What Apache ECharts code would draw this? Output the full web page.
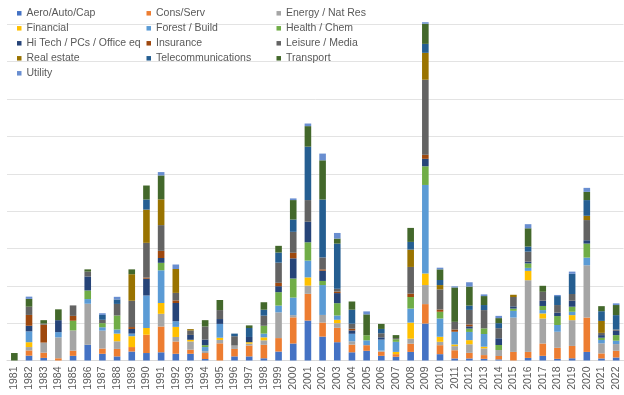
<!DOCTYPE html>
<html>
<head>
<meta charset="utf-8">
<script src="https://cdn.jsdelivr.net/npm/echarts@6/dist/echarts.min.js"></script>
<style>html,body{margin:0;padding:0;background:#fff;overflow:hidden;width:624px;height:395px}#c{width:624px;height:408px;margin-top:-13px}</style>
</head>
<body>
<div id="c"></div>
<script>
var years = [];
for (var y = 1981; y <= 2022; y++) years.push(String(y));

var seriesNames = ["Aero/Auto/Cap","Cons/Serv","Energy / Nat Res","Financial","Forest / Build","Health / Chem","Hi Tech / PCs / Office eq","Insurance","Leisure / Media","Real estate","Telecommunications","Transport","Utility"];

var aero = [0,1.3,0.7,0,1.25,4.2,1.8,1.1,2.4,2.0,2.2,1.8,1.8,0.4,0,1.1,1.1,0.6,2.4,4.55,10.7,6.4,4.9,2.2,2.6,1.25,1.0,2.3,9.9,1.7,0.55,0.55,0.45,0.3,0,0.7,1.25,0.45,0.6,2.3,0.55,0.8];
var cons = [0,1.4,1.4,0.6,1.4,0,1.4,2.0,1.2,4.9,6.9,3.3,1.1,1.6,4.6,2.0,2.9,3.6,3.6,7.0,7.15,3.75,3.85,2.05,1.5,1.1,0.7,2.2,5.2,2.4,2.2,1.5,1.0,0.9,2.3,1.6,3.3,2.95,3.3,9.2,1.35,1.8];
var energy = [0,0.9,2.7,5.6,5.4,11.0,4.8,2.05,0,0,3.4,1.2,2.2,0.5,0.9,0.9,0.5,1.2,6.9,0.6,2.2,2.05,1.25,0.9,0,0.3,0,1.35,5.1,0.9,1.1,2.3,1.8,1.6,9.2,19.2,6.7,4.3,6.9,14.0,2.7,1.8];
var financial = [0,1.3,0,0,0,0,0,2.05,2.9,1.8,2.9,2.7,0.45,0,0.6,0,0.4,0.8,0,0,2.2,0,0.9,0,0,0,0.6,4.3,3.1,1.35,0.45,1.1,0.45,0,0,2.5,1.35,0,1.35,0,0,0];
var forest = [0,2.9,0,1.4,0,1.25,0.9,1.1,0.7,8.7,8.75,1.5,0,1.1,3.7,0,0,1.0,1.8,4.7,4.5,8.0,1.15,2.0,1.3,2.95,2.7,3.75,23.7,4.9,3.4,2.2,3.4,0,1.8,0.8,0.9,1.8,0.9,2.05,0.9,0.9];
var health = [0,0,0,0,2.6,2.3,1.1,3.75,0,0,2.0,0,0,0.5,0,0,0,2.1,3.6,5.1,4.9,1.1,3.3,0,1.35,0,0.7,3.1,5.0,1.8,0,0.9,1.5,1.35,0.6,1.2,1.1,2.4,1.35,3.75,0.6,1.5];
var hitech = [0,1.5,0,3.2,0,3.75,0,0,1.25,4.5,1.3,4.9,1.3,1.5,1.3,0,1.4,0,1.6,5.4,5.5,2.75,2.7,0.9,0,0.6,0,0,2.0,0,0,0.6,0,1.8,0.6,0.45,1.4,0.9,1.6,0.9,0.7,1.15];
var insurance = [0,2.9,4.8,0,1.3,0,0,0,0.5,0.3,1.9,0.7,0,0,0,0,0,0,0.9,1.5,0,0.35,0.4,0.45,0,0,0,0.9,1.07,0.6,0.6,0.5,0,0,0,0,0,0,0,0,0,0];
var leisure = [0,2.2,0.3,0,2.8,1.3,0.9,3.1,7.05,9.3,6.9,2.0,1.2,3.5,2.4,2.5,0,2.7,5.4,5.6,5.8,3.2,0.75,1.35,0,1.1,0.3,7.15,20.1,5.4,2.05,3.9,4.9,2.7,2.5,2.7,2.4,2.05,1.8,5.4,0.6,0.35];
var realEstate = [0,0,0,0,0,0,0,0,7.1,8.9,6.9,6.4,0.35,0,0,0,0,0,0,0,0,0,0,0,0,0,0,4.65,7.2,1.15,0,0,0,0,0.6,0,0,0,0,1.15,3.2,0];
var telecom = [0,0,0,0,0,0,1.3,1.2,0,2.7,0,0,0,0,0,0.7,2.4,1.6,2.7,3.3,14.3,15.5,12.1,3.75,0,1.15,0,2.05,2.4,1.35,0,1.15,1.35,1.35,0,1.35,0,2.4,5.4,4.2,2.6,3.85];
var transport = [2.0,2.1,0.9,2.9,0,0.6,0,0,1.3,3.75,6.4,0,0,1.7,2.7,0,0.7,2.0,1.8,5.2,5.5,10.5,1.35,2.2,5.6,1.35,0.8,3.75,5.4,2.85,9.2,5.1,2.4,1.35,0,4.9,1.6,0,0,2.2,1.35,2.7];
var utility = [0,0.6,0,0,0,0,0.45,0.7,0,0,0.9,1.2,0,0,0,0,0,0,0,0.45,0.7,1.8,1.5,0,0.8,0,0,0,0.4,0.45,0.3,1.15,0.45,0.6,0,1.1,0,0.3,0.6,1.07,0,0.45];

var values = [aero,cons,energy,financial,forest,health,hitech,insurance,leisure,realEstate,telecom,transport,utility];
var colors = ["#4472C4","#ED7D31","#A5A5A5","#FFC000","#5B9BD5","#70AD47","#264478","#9E480E","#636363","#997300","#255E91","#43682B","#698ED0"];

var series = seriesNames.map(function(n, i){
  return {name:n, type:'bar', stack:'total', data:values[i], barWidth:'45%',
    itemStyle:{color:colors[i]}, emphasis:{disabled:true}};
});

var font = "'Liberation Sans', Arial, sans-serif";
function legendCol(left, names){
  return {orient:'vertical', left:left, top:20.3, padding:0, itemGap:3, itemWidth:4.5, itemHeight:4.5,
    icon:'rect', data:names, selectedMode:false,
    textStyle:{fontFamily:font, fontSize:10.5, color:'#595959', lineHeight:12}};
}

var chart = echarts.init(document.getElementById('c'), null, {renderer:'canvas'});
chart.setOption({
  animation:false,
  color:colors,
  grid:{left:7, right:0.5, top:0, bottom:34.5, containLabel:false},
  legend:[
    legendCol(17, [seriesNames[0],seriesNames[3],seriesNames[6],seriesNames[9],seriesNames[12]]),
    legendCol(146.5, [seriesNames[1],seriesNames[4],seriesNames[7],seriesNames[10]]),
    legendCol(276.5, [seriesNames[2],seriesNames[5],seriesNames[8],seriesNames[11]])
  ],
  xAxis:{type:'category', data:years,
    axisLine:{lineStyle:{color:'#D9D9D9'}}, axisTick:{show:false},
    axisLabel:{rotate:90, interval:0, margin:6, fontFamily:font, fontSize:10.5, color:'#595959'}},
  yAxis:{type:'value', min:0, max:100, interval:10,
    axisLabel:{show:false}, axisLine:{show:false}, axisTick:{show:false},
    splitLine:{lineStyle:{color:'#E3E3E3'}}},
  series:series
});
</script>
</body>
</html>
